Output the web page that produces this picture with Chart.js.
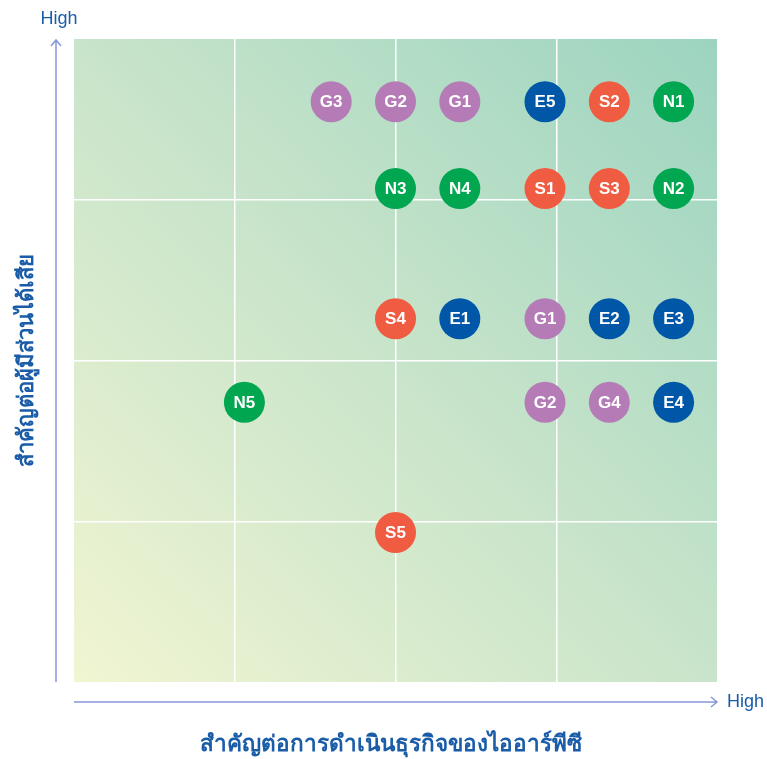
<!DOCTYPE html>
<html>
<head>
<meta charset="utf-8">
<script src="https://cdn.jsdelivr.net/npm/chart.js@4"></script>
<style>
  html, body { margin: 0; padding: 0; background: #ffffff; }
  #wrap { width: 767px; height: 759px; }
</style>
</head>
<body>
<div id="wrap"><canvas id="matriz" width="767" height="759"></canvas></div>
<script>
// rótulos de cada ponto (a letra indica o grupo)
let rotulos = ['G3', 'G2', 'G1', 'E5', 'S2', 'N1',
               'N3', 'N4', 'S1', 'S3', 'N2',
               'S4', 'E1', 'G1', 'E2', 'E3',
               'N5', 'G2', 'G4', 'E4',
               'S5'];
// eixo x: importância para o negócio
let valoresX = [1.6, 2.0, 2.4, 2.93, 3.33, 3.73,
                2.0, 2.4, 2.93, 3.33, 3.73,
                2.0, 2.4, 2.93, 3.33, 3.73,
                1.06, 2.93, 3.33, 3.73,
                2.0];
// eixo y: importância para os stakeholders
let valoresY = [3.61, 3.61, 3.61, 3.61, 3.61, 3.61,
                3.07, 3.07, 3.07, 3.07, 3.07,
                2.26, 2.26, 2.26, 2.26, 2.26,
                1.74, 1.74, 1.74, 1.74,
                0.93];

let coresGrupo = { G: '#b57bb6', E: '#0057a8', S: '#f05c42', N: '#00a650' };

let tituloX = 'สำคัญต่อการดำเนินธุรกิจของไออาร์พีซี';
let tituloY = 'สำคัญต่อผู้มีส่วนได้เสีย';
let textoAlto = 'High';

let pontos = [];
let cores = [];
for (let i = 0; i < rotulos.length; i++) {
    pontos.push({ x: valoresX[i], y: valoresY[i] });
    cores.push(coresGrupo[rotulos[i][0]]);
}

// fundo em degradê dentro da área do gráfico
const fundo = {
    id: 'fundo',
    beforeDraw(chart) {
        const a = chart.chartArea;
        const ctx = chart.ctx;
        const g = ctx.createLinearGradient(a.left, a.bottom, a.right, a.top);
        g.addColorStop(0, '#f1f5d2');
        g.addColorStop(0.5, '#c8e4ca');
        g.addColorStop(1, '#9cd4c0');
        ctx.save();
        ctx.fillStyle = g;
        ctx.fillRect(a.left, a.top, a.right - a.left, a.bottom - a.top);
        ctx.restore();
    }
};

// setas, textos "High" e títulos dos eixos
const eixos = {
    id: 'eixos',
    afterDraw(chart) {
        const a = chart.chartArea;
        const ctx = chart.ctx;
        ctx.save();
        ctx.strokeStyle = '#8599d8';
        ctx.lineWidth = 1.5;

        // seta horizontal
        let yx = a.bottom + 20;
        ctx.beginPath();
        ctx.moveTo(a.left, yx);
        ctx.lineTo(a.right, yx);
        ctx.moveTo(a.right - 6, yx - 5);
        ctx.lineTo(a.right, yx);
        ctx.lineTo(a.right - 6, yx + 5);
        ctx.stroke();

        // seta vertical
        let xy = a.left - 18;
        ctx.beginPath();
        ctx.moveTo(xy, a.bottom);
        ctx.lineTo(xy, a.top + 1);
        ctx.moveTo(xy - 5, a.top + 7);
        ctx.lineTo(xy, a.top + 1);
        ctx.lineTo(xy + 5, a.top + 7);
        ctx.stroke();

        ctx.fillStyle = '#1a5ca8';
        ctx.font = '18px "Liberation Sans", Arial, sans-serif';
        ctx.textBaseline = 'middle';
        ctx.textAlign = 'left';
        ctx.fillText(textoAlto, a.right + 10, yx);
        ctx.textAlign = 'center';
        ctx.fillText(textoAlto, xy + 3, 19);

        ctx.font = '600 22.5px "Noto Sans", sans-serif';
        ctx.fillText(tituloX, 391, 745);

        ctx.font = '600 22px "Noto Sans", sans-serif';
        ctx.translate(27, (a.top + a.bottom) / 2);
        ctx.rotate(-Math.PI / 2);
        ctx.fillText(tituloY, 0, 0);
        ctx.restore();
    }
};

// rótulo branco dentro de cada círculo
const rotulosPontos = {
    id: 'rotulosPontos',
    afterDatasetsDraw(chart) {
        const ctx = chart.ctx;
        const meta = chart.getDatasetMeta(0);
        ctx.save();
        ctx.fillStyle = '#ffffff';
        ctx.font = 'bold 17px "Liberation Sans", Arial, sans-serif';
        ctx.textAlign = 'center';
        ctx.textBaseline = 'middle';
        meta.data.forEach(function (p, i) {
            ctx.fillText(rotulos[i], p.x, p.y + 1);
        });
        ctx.restore();
    }
};

const ctx = document.getElementById('matriz');
new Chart(ctx, {
    type: 'scatter',
    data: {
        datasets: [{
            data: pontos,
            backgroundColor: cores,
            borderWidth: 0,
            pointRadius: 20.5,
            pointHoverRadius: 20.5
        }]
    },
    options: {
        responsive: false,
        animation: false,
        layout: {
            padding: { left: 74, top: 39, right: 50, bottom: 77 }
        },
        plugins: {
            legend: { display: false },
            tooltip: { enabled: false }
        },
        scales: {
            x: {
                min: 0,
                max: 4,
                ticks: { display: false, stepSize: 1 },
                border: { display: false },
                grid: {
                    drawTicks: false,
                    lineWidth: 1.5,
                    color: function (c) {
                        return (c.tick && (c.tick.value === 0 || c.tick.value === 4)) ? 'rgba(0,0,0,0)' : '#ffffff';
                    }
                }
            },
            y: {
                min: 0,
                max: 4,
                ticks: { display: false, stepSize: 1 },
                border: { display: false },
                grid: {
                    drawTicks: false,
                    lineWidth: 1.5,
                    color: function (c) {
                        return (c.tick && (c.tick.value === 0 || c.tick.value === 4)) ? 'rgba(0,0,0,0)' : '#ffffff';
                    }
                }
            }
        }
    },
    plugins: [fundo, eixos, rotulosPontos]
});
</script>
</body>
</html>
